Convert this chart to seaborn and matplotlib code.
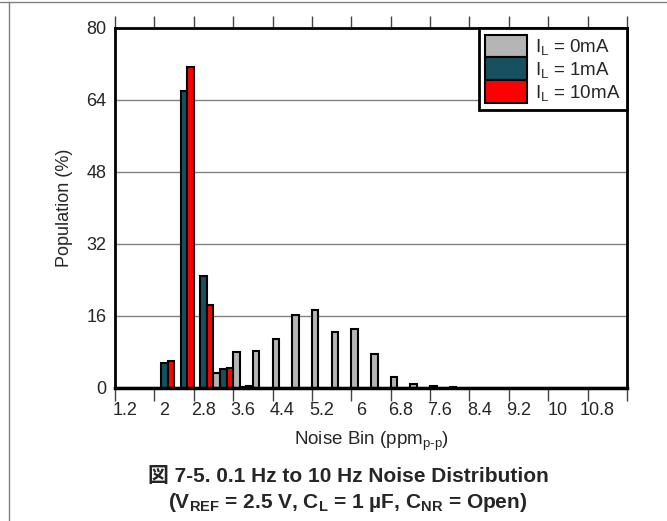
import numpy as np
import pandas as pd
import matplotlib
matplotlib.use("Agg")
import matplotlib.pyplot as plt
from matplotlib.lines import Line2D
import seaborn as sns

# --- data ---
bins = [1.2, 1.6, 2.0, 2.4, 2.8, 3.2, 3.6, 4.0, 4.4, 4.8, 5.2, 5.6, 6.0,
        6.4, 6.8, 7.2, 7.6, 8.0, 8.4, 8.8, 9.2, 9.6, 10.0, 10.4, 10.8, 11.2]
il_0ma = [0, 0, 0, 0, 0, 3.3, 8.1, 8.3, 11.0, 16.3, 17.3, 12.5, 13.2,
          7.5, 2.5, 0.8, 0.4, 0.15, 0.1, 0.1, 0.1, 0.1, 0.1, 0.1, 0.1, 0]
il_1ma = [0, 0, 5.6, 66.0, 24.9, 4.2, 0.3, 0, 0, 0, 0, 0, 0,
          0, 0, 0, 0, 0, 0, 0, 0, 0, 0, 0, 0, 0]
il_10ma = [0, 0, 6.0, 71.3, 18.4, 4.4, 0.4, 0, 0, 0, 0, 0, 0,
           0, 0, 0, 0, 0, 0, 0, 0, 0, 0, 0, 0, 0]
series_names = [r"$\mathregular{I_L}$ = 0mA", r"$\mathregular{I_L}$ = 1mA",
                r"$\mathregular{I_L}$ = 10mA"]
colors = ["#B5B5B5", "#17505F", "#FF0000"]
y_ticks = [0, 16, 32, 48, 64, 80]

bin_labels = [f"{b:g}" for b in bins]
df = pd.DataFrame({
    "bin": bin_labels * 3,
    "pop": il_0ma + il_1ma + il_10ma,
    "load": [series_names[0]] * len(bins) + [series_names[1]] * len(bins)
            + [series_names[2]] * len(bins),
})

sns.set_style("white")
plt.rcParams["font.family"] = ["Liberation Sans", "Noto Sans CJK JP"]
plt.rcParams["mathtext.fontset"] = "custom"
plt.rcParams["mathtext.rm"] = "Liberation Sans"
plt.rcParams["mathtext.it"] = "Liberation Sans"
plt.rcParams["mathtext.bf"] = "Liberation Sans:bold"

fig = plt.figure(figsize=(6.67, 5.21), dpi=100)
ax = fig.add_axes([115 / 667, 1 - 388 / 521, 512 / 667, 360 / 521])

sns.barplot(data=df, x="bin", y="pop", hue="load", order=bin_labels,
            hue_order=series_names, palette=colors, width=1.0, gap=0,
            edgecolor="black", linewidth=1.5, saturation=1, ax=ax)

ax.set_xlim(-0.5, len(bins) - 0.5)
ax.set_ylim(0, 80)

# tick marks on category boundaries every 2 bins, labels on every other bin
ax.set_xticks(np.arange(-0.5, len(bins), 2))
ax.set_xticklabels([])
ax.set_xticks(np.arange(0, len(bins), 2), minor=True)
ax.set_xticklabels(bin_labels[::2], minor=True)
ax.tick_params(axis="x", which="major", direction="out", length=9, width=1,
               color="#444444", top=True, bottom=True)
ax.tick_params(axis="x", which="minor", length=0, labelsize=13, pad=10)

ax.set_yticks(y_ticks)
ax.set_yticklabels([str(v) for v in y_ticks])
ax.tick_params(axis="y", length=0, labelsize=13, pad=6)

ax.yaxis.grid(True, color="#808080", linewidth=1)
ax.set_axisbelow(True)
for s in ax.spines.values():
    s.set_visible(True)
    s.set_color("black")
    s.set_linewidth(2)
ax.spines["bottom"].set_linewidth(2.5)

ax.set_xlabel(r"Noise Bin (ppm$_{\text{p-p}}$)", fontsize=13.5, labelpad=8)
ax.set_ylabel("Population (%)", fontsize=13, labelpad=10)

handles, labels = ax.get_legend_handles_labels()
leg = ax.legend(handles, labels, loc="upper right", borderaxespad=0,
                fontsize=13.5, frameon=True, fancybox=False, framealpha=1,
                edgecolor="black", handlelength=2.2, handleheight=1.5,
                labelspacing=0.0, handletextpad=0.45, borderpad=0.35)
leg.get_frame().set_linewidth(2)

fig.text(348 / 667, 1 - 477 / 521, "図 7-5. 0.1 Hz to 10 Hz Noise Distribution",
         ha="center", va="center", fontsize=15, fontweight="bold")
fig.text(348 / 667, 1 - 502 / 521,
         r"(V$_{\mathbf{REF}}$ = 2.5 V, C$_{\mathbf{L}}$ = 1 µF, "
         r"C$_{\mathbf{NR}}$ = Open)",
         ha="center", va="center", fontsize=15, fontweight="bold")

# page border lines
fig.add_artist(Line2D([0, 1], [1 - 2 / 521, 1 - 2 / 521], color="#808080",
                      linewidth=1, transform=fig.transFigure))
fig.add_artist(Line2D([9 / 667, 9 / 667], [0, 1 - 2 / 521], color="#808080",
                      linewidth=1, transform=fig.transFigure))

fig.savefig("out.png", dpi=100)
